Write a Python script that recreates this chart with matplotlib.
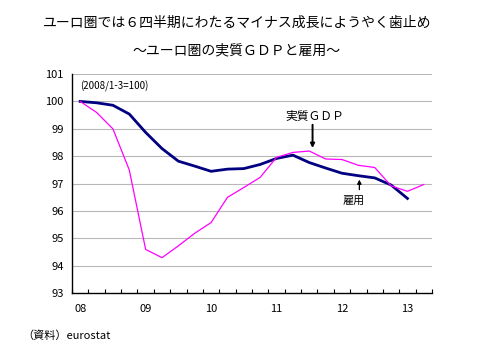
import matplotlib
matplotlib.use("Agg")
import matplotlib.pyplot as plt
import numpy as np

plt.rcParams['font.family'] = ['Noto Sans CJK JP', 'DejaVu Sans']

quarters = list(range(22))  # 2008Q1 .. 2013Q2
gdp = [100.0, 99.6, 99.0, 97.5, 94.6, 94.3, 94.73, 95.19, 95.58, 96.5, 96.86,
       97.23, 97.96, 98.14, 98.19, 97.9, 97.88, 97.67, 97.59, 96.92, 96.72, 96.97]
employment = [100.0, 99.95, 99.86, 99.54, 98.87, 98.28, 97.82, 97.64, 97.45,
              97.53, 97.55, 97.7, 97.92, 98.04, 97.77, 97.57, 97.38, 97.29,
              97.21, 96.95, 96.46]
year_labels = ['08', '09', '10', '11', '12', '13']
year_positions = [0, 4, 8, 12, 16, 20]
yticks = list(range(93, 102))

fig = plt.figure(figsize=(5.01, 3.6), dpi=100)
ax = fig.add_axes([0.1437, 0.1853, 0.7186, 0.6091])

for v in yticks[1:]:
    ax.axhline(v, color='#b8b8b8', lw=0.8, zorder=0)

ax.plot(quarters[:len(gdp)], gdp, color='#ff00ff', lw=0.9, zorder=3)
ax.plot(quarters[:len(employment)], employment, color='#000080', lw=2.0, zorder=2)

ax.set_xlim(-0.5, 21.5)
ax.set_ylim(93, 101)
ax.set_yticks(yticks)
ax.set_yticklabels([str(v) for v in yticks], fontsize=8)
ax.tick_params(axis='y', length=0, pad=6)
ax.set_xticks(year_positions)
ax.set_xticklabels(year_labels, fontsize=8)
ax.tick_params(axis='x', which='major', length=0, pad=8)
ax.set_xticks(np.arange(-0.5, 22, 1), minor=True)
ax.tick_params(axis='x', which='minor', direction='in', length=3, width=0.8)

for s in ['top', 'right']:
    ax.spines[s].set_visible(False)
for s in ['left', 'bottom']:
    ax.spines[s].set_linewidth(1.0)
    ax.spines[s].set_color('black')

ax.text(0.0, 100.55, '(2008/1-3=100)', fontsize=7, va='center', ha='left')

ax.annotate('', xy=(14.2, 98.2), xytext=(14.2, 99.25),
            arrowprops=dict(arrowstyle='-|>', color='black', lw=1.4, mutation_scale=6))
ax.text(14.35, 99.48, '実質ＧＤＰ', fontsize=8.5, ha='center', va='center')
ax.annotate('', xy=(17.06, 97.25), xytext=(17.06, 96.68),
            arrowprops=dict(arrowstyle='-|>', color='black', lw=0.9, mutation_scale=6))
ax.text(16.7, 96.37, '雇用', fontsize=8, ha='center', va='center')

fig.text(0.473, 1 - 23/360, 'ユーロ圏では６四半期にわたるマイナス成長にようやく歯止め',
         fontsize=10, ha='center', va='center')
fig.text(0.473, 1 - 50/360, '～ユーロ圏の実質ＧＤＰと雇用～',
         fontsize=10, ha='center', va='center')
fig.text(22/501, 1 - 336/360, '（資料）eurostat', fontsize=8, ha='left', va='center')

fig.savefig('out.png', dpi=100)
